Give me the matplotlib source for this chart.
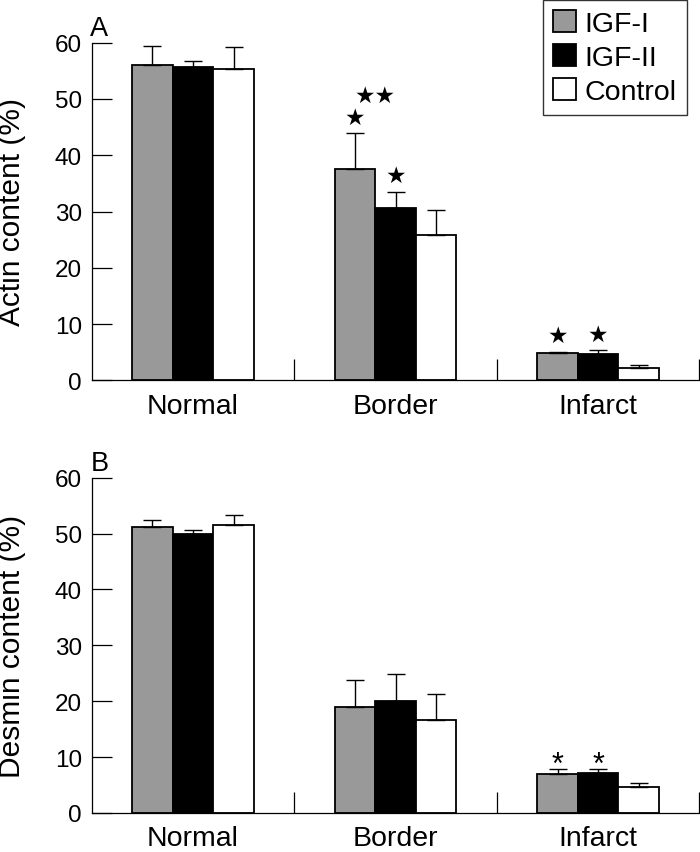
import numpy as np
import matplotlib
matplotlib.use("Agg")
import matplotlib.pyplot as plt
from matplotlib.patches import Patch

plt.rcParams['font.family'] = ['Liberation Sans', 'DejaVu Sans']

categories = ["Normal", "Border", "Infarct"]
series = ["IGF-I", "IGF-II", "Control"]

actin_igf1 = [56.0, 37.5, 4.8]
actin_igf2 = [55.7, 30.6, 4.7]
actin_ctrl = [55.4, 25.9, 2.1]
actin_igf1_err = [3.4, 6.4, 0.3]
actin_igf2_err = [1.1, 2.9, 0.6]
actin_ctrl_err = [3.8, 4.4, 0.7]

desmin_igf1 = [51.2, 19.0, 7.0]
desmin_igf2 = [50.0, 20.0, 7.1]
desmin_ctrl = [51.6, 16.7, 4.6]
desmin_igf1_err = [1.3, 4.8, 0.8]
desmin_igf2_err = [0.7, 4.9, 0.7]
desmin_ctrl_err = [1.8, 4.6, 0.7]

# significance marks (per series, per category)
actin_sig = {"IGF-I": ["", "★", "★"], "IGF-II": ["", "★", "★"], "Control": ["", "", ""]}
actin_pair_sig = "★★"   # IGF-I vs IGF-II in border zone
desmin_sig = {"IGF-I": ["", "", "*"], "IGF-II": ["", "", "*"], "Control": ["", "", ""]}

colors = ["#999999", "#000000", "#ffffff"]
yticks = [0, 10, 20, 30, 40, 50, 60]

W, H = 700, 853
fig = plt.figure(figsize=(W / 100, H / 100), dpi=100)

def px_axes(left, right, top, bottom):
    return [left / W, (H - bottom) / H, (right - left) / W, (bottom - top) / H]

ax1 = fig.add_axes(px_axes(91.7, 699.5, 43.7, 381.3))
ax2 = fig.add_axes(px_axes(91.7, 699.5, 478.7, 814.0))

x = np.arange(len(categories))
bw = 0.2

def draw(ax, vals, errs, sigs, ylabel, letter, star_font, star_size, star_off):
    for i, (v, e, c, name) in enumerate(zip(vals, errs, colors, series)):
        xs = x + (i - 1) * bw
        ax.bar(xs, v, width=bw, color=c, edgecolor="black", linewidth=1.3, zorder=2)
        ax.errorbar(xs, v, yerr=[np.zeros(len(v)), e], fmt="none", ecolor="black",
                    elinewidth=1.0, capsize=6.5, capthick=1.0, zorder=3)
        for xi, vi, ei, s in zip(xs, v, e, sigs[name]):
            if s:
                ax.annotate(s, (xi, vi + ei), xytext=(0, star_off), textcoords="offset points",
                            ha="center", va="center", fontsize=star_size,
                            family=star_font, zorder=4)
    ax.set_xlim(-0.5, 2.5)
    ax.set_ylim(0, 60)
    ax.spines["top"].set_visible(False)
    ax.spines["right"].set_visible(False)
    ax.spines["left"].set_bounds(0, 60)
    for sp in ("left", "bottom"):
        ax.spines[sp].set_linewidth(0.9)
    ax.set_yticks(yticks)
    ax.tick_params(axis="y", direction="in", length=14.5, width=0.9, pad=7, labelsize=17.5)
    ax.set_xticks([0.5, 1.5, 2.5])
    ax.set_xticklabels([])
    ax.tick_params(axis="x", which="major", direction="in", length=15, width=0.9)
    ax.set_xticks(x, minor=True)
    ax.set_xticklabels(categories, minor=True)
    ax.tick_params(axis="x", which="minor", length=0, pad=9, labelsize=20.5)
    pos = ax.get_position()
    fig.text(12.5 / W, pos.y0 + pos.height / 2, ylabel, rotation=90, ha="center",
             va="center", fontsize=21.5)
    fig.text(99.5 / W, pos.y1 + 8 / H, letter, ha="center", va="baseline", fontsize=19.5)

draw(ax1, [actin_igf1, actin_igf2, actin_ctrl], [actin_igf1_err, actin_igf2_err, actin_ctrl_err],
     actin_sig, "Actin content (%)", "A", ["DejaVu Sans"], 16.5, 11.5)
draw(ax2, [desmin_igf1, desmin_igf2, desmin_ctrl], [desmin_igf1_err, desmin_igf2_err, desmin_ctrl_err],
     desmin_sig, "Desmin content (%)", "B", ["Liberation Sans"], 22, 3.5)

# pair significance between IGF-I and IGF-II in border zone
ax1.annotate(actin_pair_sig, (1 - bw / 2, actin_igf1[1] + actin_igf1_err[1]), xytext=(0, 27),
             textcoords="offset points", ha="center", va="center", fontsize=16.5,
             family=["DejaVu Sans"], zorder=4)

handles = [Patch(facecolor=c, edgecolor="black", linewidth=1.3) for c in colors]
leg = fig.legend(handles, series, loc="upper right", bbox_to_anchor=(686.7 / W, (H - 1) / H),
                 fontsize=20.5, frameon=True, fancybox=False, handlelength=0.8,
                 handleheight=0.8, handletextpad=0.3, labelspacing=0.25, borderpad=0.35,
                 borderaxespad=0)
leg.get_frame().set_edgecolor("black")
leg.get_frame().set_linewidth(1.0)

fig.savefig("out.png", dpi=100)
